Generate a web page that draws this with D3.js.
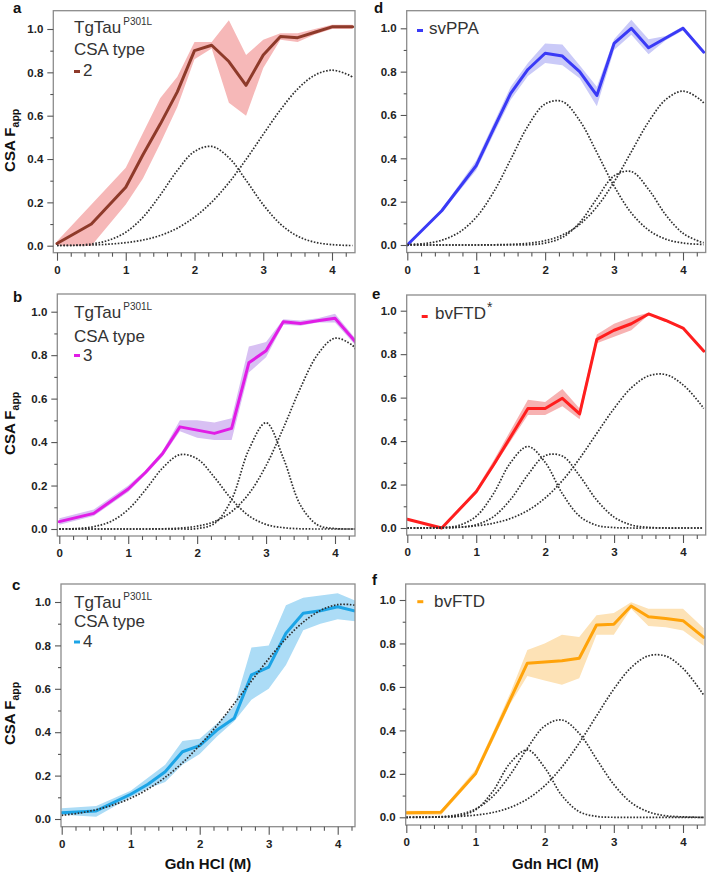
<!DOCTYPE html>
<html>
<head>
<meta charset="utf-8">
<script src="https://cdn.jsdelivr.net/npm/d3@7"></script>
<style>
  body { margin: 0; background: #fff; }
  svg { display: block; }
  text { font-family: "Liberation Sans", Arial, Helvetica, sans-serif; }
</style>
</head>
<body>
<svg id="fig" width="708" height="873"></svg>
<script>
// Gdn HCl concentrations (M) of the measured points
const conc = [0, 0.5, 1, 1.25, 1.5, 1.75, 2, 2.25, 2.5, 2.75, 3, 3.25, 3.5, 3.75, 4, 4.3];
// x positions where the fitted components are sampled
const fitX = [0, 0.25, 0.5, 0.75, 1, 1.25, 1.5, 1.75, 2, 2.25, 2.5, 2.75, 3, 3.25, 3.5, 3.75, 4, 4.25, 4.3];

// a: TgTau P301L CSA type 2
const lineA = [0.01, 0.10, 0.27, 0.42, 0.56, 0.71, 0.90, 0.925, 0.85, 0.74, 0.88, 0.965, 0.96, 0.985, 1.01, 1.01];
const lowA  = [0.0, 0.0, 0.19, 0.31, 0.47, 0.64, 0.86, 0.91, 0.66, 0.60, 0.82, 0.95, 0.94, 0.975, 1.0, 1.0];
const highA = [0.02, 0.19, 0.36, 0.52, 0.68, 0.78, 0.94, 0.94, 1.04, 0.88, 0.95, 0.98, 0.98, 1.0, 1.02, 1.02];
const fitA1 = [0.001, 0.002, 0.008, 0.025, 0.062, 0.131, 0.233, 0.347, 0.435, 0.458, 0.406, 0.302, 0.189, 0.10, 0.044, 0.016, 0.005, 0.001, 0.001];
const fitA2 = [0.001, 0.001, 0.003, 0.007, 0.014, 0.026, 0.047, 0.081, 0.132, 0.201, 0.291, 0.398, 0.514, 0.627, 0.723, 0.787, 0.81, 0.787, 0.778];

// b: TgTau P301L CSA type 3
const lineB = [0.034, 0.072, 0.184, 0.26, 0.348, 0.47, 0.455, 0.44, 0.463, 0.765, 0.82, 0.954, 0.946, 0.958, 0.97, 0.86];
const lowB  = [0.02, 0.06, 0.17, 0.25, 0.335, 0.45, 0.42, 0.41, 0.41, 0.72, 0.79, 0.94, 0.935, 0.95, 0.95, 0.845];
const highB = [0.05, 0.09, 0.20, 0.27, 0.36, 0.50, 0.50, 0.49, 0.51, 0.84, 0.86, 0.965, 0.96, 0.97, 0.99, 0.875];
const fitB1 = [0, 0.002, 0.011, 0.035, 0.090, 0.180, 0.281, 0.342, 0.323, 0.238, 0.137, 0.061, 0.021, 0.006, 0.001, 0, 0, 0, 0];
const fitB2 = [0, 0, 0, 0, 0, 0, 0, 0, 0.002, 0.025, 0.136, 0.365, 0.489, 0.327, 0.109, 0.018, 0.002, 0, 0];
const fitB3 = [0, 0, 0, 0, 0, 0, 0.001, 0.004, 0.013, 0.034, 0.080, 0.162, 0.292, 0.464, 0.650, 0.804, 0.878, 0.846, 0.827];

// c: TgTau P301L CSA type 4
const lineC = [0.029, 0.037, 0.114, 0.16, 0.218, 0.31, 0.338, 0.41, 0.464, 0.664, 0.70, 0.856, 0.948, 0.96, 0.978, 0.955];
const lowC  = [0.02, 0.01, 0.10, 0.14, 0.17, 0.25, 0.30, 0.38, 0.45, 0.55, 0.60, 0.71, 0.87, 0.90, 0.92, 0.91];
const highC = [0.05, 0.06, 0.13, 0.19, 0.25, 0.36, 0.37, 0.44, 0.52, 0.79, 0.80, 0.985, 1.02, 1.03, 1.04, 1.0];
const fitC1 = [0.017, 0.027, 0.043, 0.065, 0.096, 0.138, 0.192, 0.259, 0.340, 0.431, 0.532, 0.636, 0.738, 0.831, 0.907, 0.961, 0.988, 0.985, 0.980];

// d: svPPA
const lineD = [0, 0.158, 0.366, 0.535, 0.70, 0.81, 0.885, 0.872, 0.80, 0.69, 0.93, 1.0, 0.91, 0.955, 1.0, 0.89];
const lowD  = [0, 0.15, 0.345, 0.51, 0.67, 0.78, 0.84, 0.83, 0.77, 0.64, 0.90, 0.97, 0.88, 0.945, 0.99, 0.88];
const highD = [0, 0.166, 0.39, 0.56, 0.73, 0.84, 0.93, 0.925, 0.83, 0.73, 0.95, 1.04, 0.95, 0.965, 1.01, 0.90];
const fitD1 = [0.002, 0.007, 0.022, 0.058, 0.128, 0.243, 0.395, 0.549, 0.651, 0.662, 0.575, 0.427, 0.272, 0.148, 0.069, 0.027, 0.009, 0.003, 0.002];
const fitD2 = [0, 0, 0, 0, 0, 0.001, 0.003, 0.008, 0.020, 0.046, 0.095, 0.176, 0.291, 0.430, 0.568, 0.671, 0.71, 0.671, 0.655];
const fitD3 = [0, 0, 0, 0, 0, 0, 0, 0.001, 0.009, 0.035, 0.103, 0.214, 0.319, 0.339, 0.257, 0.139, 0.054, 0.015, 0.011];

// e: bvFTD*
const lineE = [0.04, 0.0, 0.167, 0.29, 0.42, 0.55, 0.55, 0.597, 0.525, 0.868, 0.91, 0.94, 0.985, 0.955, 0.92, 0.814];
const lowE  = [0.035, 0.0, 0.16, 0.28, 0.40, 0.52, 0.52, 0.56, 0.50, 0.85, 0.88, 0.91, 0.98, 0.95, 0.915, 0.81];
const highE = [0.045, 0.0, 0.18, 0.31, 0.45, 0.59, 0.58, 0.64, 0.55, 0.89, 0.94, 0.97, 0.99, 0.96, 0.925, 0.82];
const fitE1 = [0, 0, 0.002, 0.012, 0.054, 0.158, 0.302, 0.375, 0.302, 0.158, 0.054, 0.012, 0.002, 0, 0, 0, 0, 0, 0];
const fitE2 = [0, 0, 0, 0.003, 0.015, 0.052, 0.132, 0.245, 0.333, 0.331, 0.240, 0.128, 0.050, 0.014, 0.003, 0, 0, 0, 0];
const fitE3 = [0, 0.001, 0.002, 0.004, 0.010, 0.022, 0.044, 0.081, 0.138, 0.218, 0.320, 0.436, 0.550, 0.645, 0.700, 0.706, 0.659, 0.572, 0.550];

// f: bvFTD
const lineF = [0.021, 0.023, 0.20, 0.37, 0.54, 0.709, 0.715, 0.72, 0.732, 0.885, 0.888, 0.972, 0.923, 0.915, 0.905, 0.828];
const lowF  = [0.01, 0.01, 0.19, 0.35, 0.52, 0.65, 0.63, 0.61, 0.64, 0.84, 0.84, 0.96, 0.88, 0.875, 0.86, 0.79];
const highF = [0.03, 0.03, 0.22, 0.39, 0.57, 0.77, 0.80, 0.84, 0.83, 0.93, 0.94, 0.99, 0.96, 0.96, 0.96, 0.87];
const fitF1 = [0, 0, 0.001, 0.006, 0.034, 0.119, 0.249, 0.310, 0.229, 0.100, 0.026, 0.004, 0, 0, 0, 0, 0, 0, 0];
const fitF2 = [0, 0.001, 0.003, 0.012, 0.038, 0.096, 0.195, 0.318, 0.420, 0.448, 0.386, 0.268, 0.151, 0.068, 0.025, 0.007, 0.002, 0, 0];
const fitF3 = [0, 0.001, 0.002, 0.004, 0.010, 0.022, 0.045, 0.084, 0.145, 0.232, 0.342, 0.467, 0.590, 0.689, 0.743, 0.742, 0.685, 0.585, 0.562];

// tick values
const xMajor = [0, 1, 2, 3, 4];
const xMinor = [0.2, 0.4, 0.6, 0.8, 1.2, 1.4, 1.6, 1.8, 2.2, 2.4, 2.6, 2.8, 3.2, 3.4, 3.6, 3.8, 4.2];
const yMajor = [0, 0.2, 0.4, 0.6, 0.8, 1.0];
const yMinor = [0.1, 0.3, 0.5, 0.7, 0.9];

const svg = d3.select("#fig");

// panel layout: frame box (L,R,T,B) and pixel anchors of x=0/x=4 and y=0/y=1
const panels = [
  { key: "a", L: 53.3, R: 355, T: 10.7, B: 252.7, x0: 57, x4: 332, y0: 245.7, y1: 29,
    color: "#8E3A2A", band: "#F6B8B8", line: lineA, lo: lowA, hi: highA, fits: [fitA1, fitA2],
    letter: [13, 12.5], tg: { x: 74, rows: [32.5, 54.5, 76], dashY: 71.5, label: "2" }, ytitle: true },
  { key: "b", L: 57.3, R: 355, T: 294, B: 536, x0: 59.3, x4: 335, y0: 529, y1: 311.7,
    color: "#E11DE6", band: "#D8C0F3", line: lineB, lo: lowB, hi: highB, fits: [fitB1, fitB2, fitB3],
    letter: [13, 301.5], tg: { x: 74, rows: [318, 341.5, 361], dashY: 355.5, label: "3" }, ytitle: true },
  { key: "c", L: 61, R: 355, T: 584, B: 826.7, x0: 61.7, x4: 337.7, y0: 819, y1: 602,
    color: "#1CA4E6", band: "#ACDCF6", line: lineC, lo: lowC, hi: highC, fits: [fitC1],
    letter: [12, 590], tg: { x: 74, rows: [607.5, 627, 647], dashY: 642, label: "4" }, ytitle: true, xtitle: true },
  { key: "d", L: 406.7, R: 705.7, T: 10.7, B: 252.5, x0: 407.3, x4: 683, y0: 245, y1: 28.3,
    color: "#3A3AF6", band: "#CACAF8", line: lineD, lo: lowD, hi: highD, fits: [fitD1, fitD2, fitD3],
    letter: [374, 12.5], leg: { dx: 417, tx: 429, y: 34, dy: 30.5, name: "svPPA" } },
  { key: "e", L: 406.7, R: 705.7, T: 295, B: 535, x0: 407.3, x4: 683, y0: 528, y1: 310.7,
    color: "#FF1E1E", band: "#F7B2B2", line: lineE, lo: lowE, hi: highE, fits: [fitE1, fitE2, fitE3],
    letter: [372, 299], leg: { dx: 421.7, tx: 435, y: 319.3, dy: 316.5, name: "bvFTD", star: true } },
  { key: "f", L: 405.7, R: 705, T: 584, B: 825, x0: 406.3, x4: 683, y0: 817.3, y1: 600,
    color: "#FFA30A", band: "#FDE2B6", line: lineF, lo: lowF, hi: highF, fits: [fitF1, fitF2, fitF3],
    letter: [372, 585], leg: { dx: 417.3, tx: 434, y: 606.7, dy: 601.7, name: "bvFTD" }, xtitle: true }
];

panels.forEach(p => {
  const x = d3.scaleLinear().domain([0, 4]).range([p.x0, p.x4]);
  const y = d3.scaleLinear().domain([0, 1]).range([p.y0, p.y1]);
  const g = svg.append("g");

  g.append("clipPath").attr("id", "clip-" + p.key)
    .append("rect").attr("x", p.L).attr("y", p.T).attr("width", p.R - p.L).attr("height", p.B - p.T);
  const plot = g.append("g").attr("clip-path", "url(#clip-" + p.key + ")");

  // shaded spread
  const area = d3.area().x((d, i) => x(conc[i])).y0((d, i) => y(p.lo[i])).y1((d, i) => y(p.hi[i]));
  plot.append("path").datum(p.line).attr("d", area).attr("fill", p.band).attr("stroke", "none");

  // mean curve
  const line = d3.line().x((d, i) => x(conc[i])).y(d => y(d));
  plot.append("path").datum(p.line).attr("d", line)
    .attr("fill", "none").attr("stroke", p.color).attr("stroke-width", 3)
    .attr("stroke-linejoin", "round").attr("stroke-linecap", "round");

  // fitted components, dotted
  const fitLine = d3.line().x((d, i) => x(fitX[i])).y(d => y(d)).curve(d3.curveCatmullRom.alpha(0.5));
  p.fits.forEach(f => {
    plot.append("path").datum(f).attr("d", fitLine)
      .attr("fill", "none").attr("stroke", "#2e2e2e").attr("stroke-width", 1.7)
      .attr("stroke-dasharray", "1.6 1.6");
  });

  // frame
  g.append("rect").attr("x", p.L).attr("y", p.T).attr("width", p.R - p.L).attr("height", p.B - p.T)
    .attr("fill", "none").attr("stroke", "#8c8c8c").attr("stroke-width", 1.3);

  // axes
  g.append("g").attr("transform", `translate(${p.L},0)`)
    .call(d3.axisLeft(y).tickValues(yMajor).tickSize(6).tickPadding(4).tickFormat(d3.format(".1f")));
  g.append("g").attr("transform", `translate(${p.L},0)`)
    .call(d3.axisLeft(y).tickValues(yMinor).tickSize(3).tickFormat(""));
  g.append("g").attr("transform", `translate(0,${p.B})`)
    .call(d3.axisBottom(x).tickValues(xMajor).tickSize(8).tickPadding(5).tickFormat(d3.format("d")));
  g.append("g").attr("transform", `translate(0,${p.B})`)
    .call(d3.axisBottom(x).tickValues(xMinor).tickSize(4).tickFormat(""));
  g.selectAll(".domain").remove();
  g.selectAll(".tick line").attr("stroke", "#555").attr("stroke-width", 1.1);
  g.selectAll(".tick text").attr("font-size", 11.5).attr("font-weight", "bold").attr("fill", "#222")
    .attr("font-family", "'Liberation Sans', Arial, sans-serif");

  // panel letter
  g.append("text").attr("x", p.letter[0]).attr("y", p.letter[1])
    .attr("font-size", 15).attr("font-weight", "bold").attr("fill", "#111").text(p.key);

  // legends
  if (p.tg) {
    const t1 = g.append("text").attr("x", p.tg.x).attr("y", p.tg.rows[0]).attr("font-size", 17).attr("fill", "#333");
    t1.append("tspan").text("TgTau");
    t1.append("tspan").attr("dx", 2).attr("dy", -8).attr("font-size", 10).text("P301L");
    g.append("text").attr("x", p.tg.x).attr("y", p.tg.rows[1]).attr("font-size", 17).attr("fill", "#333").text("CSA type");
    g.append("line").attr("x1", p.tg.x).attr("x2", p.tg.x + 6).attr("y1", p.tg.dashY).attr("y2", p.tg.dashY)
      .attr("stroke", p.color).attr("stroke-width", 3);
    g.append("text").attr("x", p.tg.x + 9).attr("y", p.tg.rows[2]).attr("font-size", 17).attr("fill", "#333").text(p.tg.label);
  }
  if (p.leg) {
    g.append("line").attr("x1", p.leg.dx).attr("x2", p.leg.dx + 6).attr("y1", p.leg.dy).attr("y2", p.leg.dy)
      .attr("stroke", p.color).attr("stroke-width", 3);
    const t = g.append("text").attr("x", p.leg.tx).attr("y", p.leg.y).attr("font-size", 17).attr("fill", "#333");
    t.append("tspan").text(p.leg.name);
    if (p.leg.star) t.append("tspan").attr("dx", 1).attr("dy", -7).attr("font-size", 14).text("*");
  }

  // axis titles
  if (p.ytitle) {
    const cy = (p.y0 + p.y1) / 2 + 3;
    const t = g.append("text").attr("transform", `translate(15,${cy}) rotate(-90)`)
      .attr("text-anchor", "middle").attr("font-size", 15).attr("font-weight", "bold").attr("fill", "#111");
    t.append("tspan").text("CSA F");
    t.append("tspan").attr("dy", 4).attr("font-size", 10.5).text("app");
  }
  if (p.xtitle) {
    g.append("text").attr("x", (p.L + p.R) / 2).attr("y", 869).attr("text-anchor", "middle")
      .attr("font-size", 15).attr("font-weight", "bold").attr("fill", "#111").text("Gdn HCl (M)");
  }
});
</script>
</body>
</html>
